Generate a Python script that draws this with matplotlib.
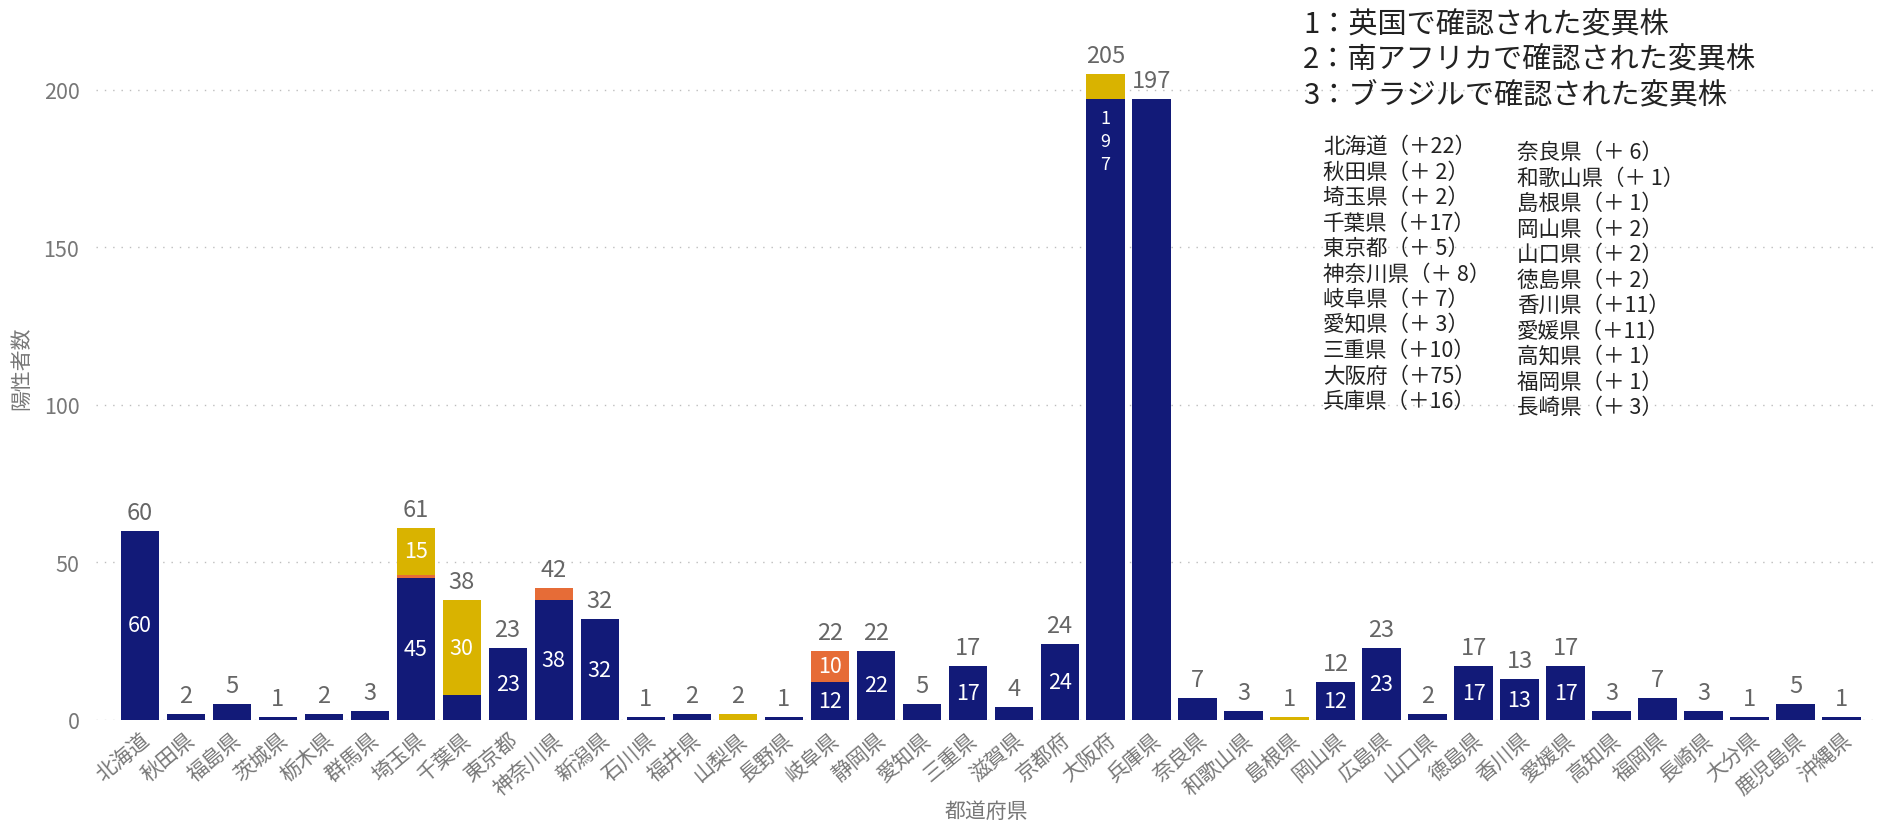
import matplotlib
matplotlib.use("Agg")
import matplotlib.pyplot as plt
import numpy as np

plt.rcParams['font.family'] = ['Noto Sans CJK JP', 'DejaVu Sans']

# 都道府県ごとの陽性者数（変異株）
prefs = ["北海道", "秋田県", "福島県", "茨城県", "栃木県", "群馬県", "埼玉県", "千葉県",
         "東京都", "神奈川県", "新潟県", "石川県", "福井県", "山梨県", "長野県", "岐阜県",
         "静岡県", "愛知県", "三重県", "滋賀県", "京都府", "大阪府", "兵庫県", "奈良県",
         "和歌山県", "島根県", "岡山県", "広島県", "山口県", "徳島県", "香川県", "愛媛県",
         "高知県", "福岡県", "長崎県", "大分県", "鹿児島県", "沖縄県"]
uk = [60, 2, 5, 1, 2, 3, 45, 8, 23, 38, 32, 1, 2, 0, 1, 12, 22, 5, 17, 4, 24, 197, 197, 7,
      3, 0, 12, 23, 2, 17, 13, 17, 3, 7, 3, 1, 5, 1]
sa = [0, 0, 0, 0, 0, 0, 1, 0, 0, 4, 0, 0, 0, 0, 0, 10, 0, 0, 0, 0, 0, 0, 0, 0,
      0, 0, 0, 0, 0, 0, 0, 0, 0, 0, 0, 0, 0, 0]
br = [0, 0, 0, 0, 0, 0, 15, 30, 0, 0, 0, 0, 0, 2, 0, 0, 0, 0, 0, 0, 0, 8, 0, 0,
      0, 1, 0, 0, 0, 0, 0, 0, 0, 0, 0, 0, 0, 0]

legend_lines = ["1：英国で確認された変異株", "2：南アフリカで確認された変異株", "3：ブラジルで確認された変異株"]

col1_names = ["北海道", "秋田県", "埼玉県", "千葉県", "東京都", "神奈川県", "岐阜県", "愛知県",
              "三重県", "大阪府", "兵庫県"]
col1_add = [22, 2, 2, 17, 5, 8, 7, 3, 10, 75, 16]
col2_names = ["奈良県", "和歌山県", "島根県", "岡山県", "山口県", "徳島県", "香川県", "愛媛県",
              "高知県", "福岡県", "長崎県"]
col2_add = [6, 1, 1, 2, 2, 2, 11, 11, 1, 1, 3]

no_inner = ["兵庫県"]

BLUE = "#121A78"
ORANGE = "#E66C37"
YELLOW = "#D9B300"
GRAY = "#666666"

uk = np.array(uk)
sa = np.array(sa)
br = np.array(br)
total = uk + sa + br
x = np.arange(len(prefs))

W, H = 1879, 829
fig = plt.figure(figsize=(W / 100, H / 100), dpi=100)
ax = fig.add_axes([96 / W, 1 - 721 / H, (1876 - 96) / W, (721 - 15) / H])

w = 0.83
ax.bar(x, uk, w, color=BLUE)
ax.bar(x, sa, w, bottom=uk, color=ORANGE)
ax.bar(x, br, w, bottom=uk + sa, color=YELLOW)

# 内側のラベル
for vals, bottoms in [(uk, np.zeros(len(x))), (sa, uk), (br, uk + sa)]:
    for i, v in enumerate(vals):
        if v < 10 or prefs[i] in no_inner:
            continue
        if v >= 100:
            ax.annotate("\n".join(str(v)), (i, bottoms[i] + v), xytext=(0, -7),
                        textcoords="offset points", ha="center", va="top",
                        fontsize=13, color="white", linespacing=1.35)
        else:
            ax.text(i, bottoms[i] + v / 2, str(v), ha="center", va="center",
                    fontsize=15.5, color="white")

# 合計ラベル
for i, t in enumerate(total):
    ax.annotate(str(t), (i, t), xytext=(0, 5), textcoords="offset points",
                ha="center", va="bottom", fontsize=17, color=GRAY)

ax.set_xlim(-0.95, 37.75)
ax.set_ylim(0, 224)
ax.set_yticks([0, 50, 100, 150, 200])
ax.yaxis.grid(True, linestyle=(0, (1, 5)), color="#bdbdbd", linewidth=1)
ax.set_axisbelow(True)
for s in ax.spines.values():
    s.set_visible(False)
ax.tick_params(axis="y", length=0, pad=12, labelsize=15.5, labelcolor="#777777")
ax.set_xticks(x)
ax.set_xticklabels(prefs, rotation=40, ha="right", va="top", rotation_mode="anchor",
                   fontsize=15, color="#777777")
ax.tick_params(axis="x", length=0, pad=6)

ax.set_xlabel("都道府県", fontsize=15, color="#777777")
ax.xaxis.set_label_coords(0.5, (721 - 812) / 706)
ax.xaxis.label.set_va("center")
ax.set_ylabel("陽性者数", fontsize=15, color="#777777")
ax.yaxis.set_label_coords((21 - 96) / 1780, 0.5)
ax.yaxis.label.set_va("center")

for k, line in enumerate(legend_lines):
    fig.text(1303 / W, 1 - (25 + 35 * k) / H, line, fontsize=21, color="#222222",
             ha="left", va="center")

for k, (n, a) in enumerate(zip(col1_names, col1_add)):
    fig.text(1323 / W, 1 - (147 + 25.5 * k) / H, f"{n}（＋{a:>2}）", fontsize=15.5,
             color="#222222", ha="left", va="center")
for k, (n, a) in enumerate(zip(col2_names, col2_add)):
    fig.text(1517 / W, 1 - (153 + 25.5 * k) / H, f"{n}（＋{a:>2}）", fontsize=15.5,
             color="#222222", ha="left", va="center")

fig.savefig("out.png", dpi=100)
